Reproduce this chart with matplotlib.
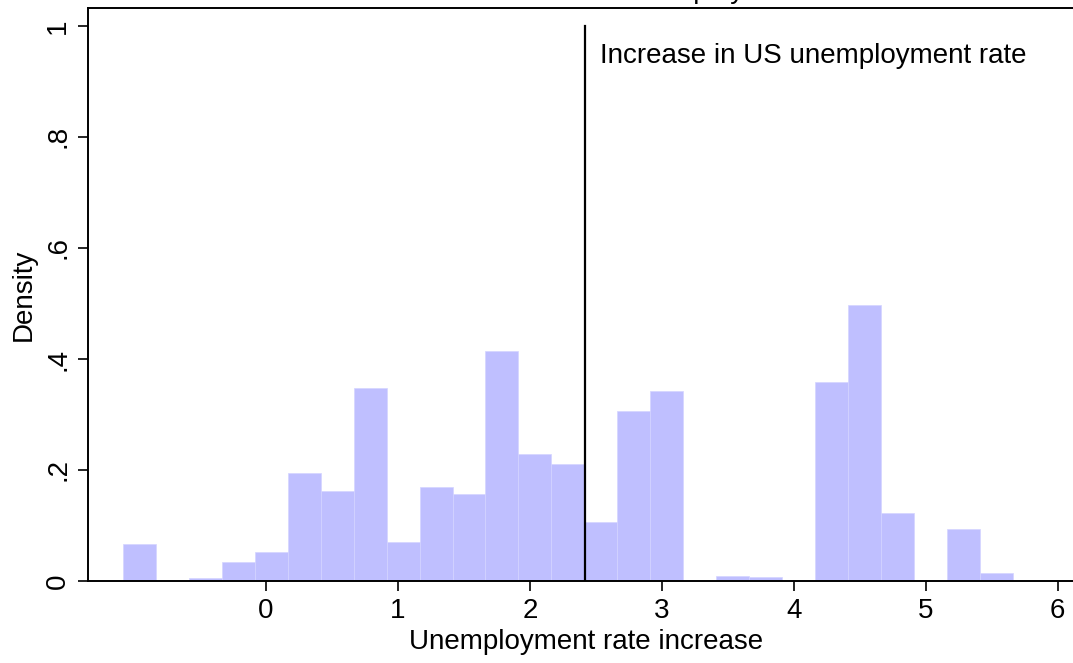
import numpy as np
import matplotlib.pyplot as plt

plt.rcParams['font.family'] = ['Liberation Sans', 'DejaVu Sans']

# histogram of unemployment rate increases (density)
first_edge = -1.086
bin_width = 0.25
density = [0.066, 0.0, 0.005, 0.035, 0.053, 0.195, 0.163, 0.347, 0.070,
           0.169, 0.157, 0.414, 0.229, 0.211, 0.107, 0.307, 0.342, 0.0,
           0.009, 0.007, 0.0, 0.358, 0.497, 0.1225, 0.0, 0.094, 0.014]
us_increase = 2.42
us_label = "Increase in US unemployment rate"
xticks = [0, 1, 2, 3, 4, 5, 6]
yticks = [0, 0.2, 0.4, 0.6, 0.8, 1.0]
ytick_labels = ["0", ".2", ".4", ".6", ".8", "1"]

edges = first_edge + bin_width * np.arange(len(density) + 1)

fig = plt.figure(figsize=(10.73, 6.63), dpi=100)
ax = fig.add_axes([0.082, 0.1237, 0.929, 0.864])

ax.bar(edges[:-1], density, width=bin_width, align='edge',
       color='#bfbfff', edgecolor='#d4d4ff', linewidth=0.5)
ax.plot([us_increase, us_increase], [0, 1], color='black', linewidth=1.6)
ax.text(us_increase + 0.11, 0.945, us_label, fontsize=20, va='center', ha='left')

ax.set_xlim(-1.348, 6.205)
ax.set_ylim(0, 1.032)
ax.set_xticks(xticks)
ax.set_xticklabels([str(t) for t in xticks], fontsize=20)
ax.set_yticks(yticks)
ax.set_yticklabels(ytick_labels, fontsize=20, rotation=90, va='center')
ax.tick_params(direction='out', length=7, width=1.2, pad=5)
for s in ax.spines.values():
    s.set_linewidth(1.4)

ax.set_xlabel("Unemployment rate increase", fontsize=20, labelpad=4)
ax.set_ylabel("Density", fontsize=20, labelpad=6)
# title sits mostly above the visible area, as in the cropped original
ax.set_title("Increase in the state unemployment", fontsize=20, pad=7)

fig.savefig("out.png", dpi=100)
